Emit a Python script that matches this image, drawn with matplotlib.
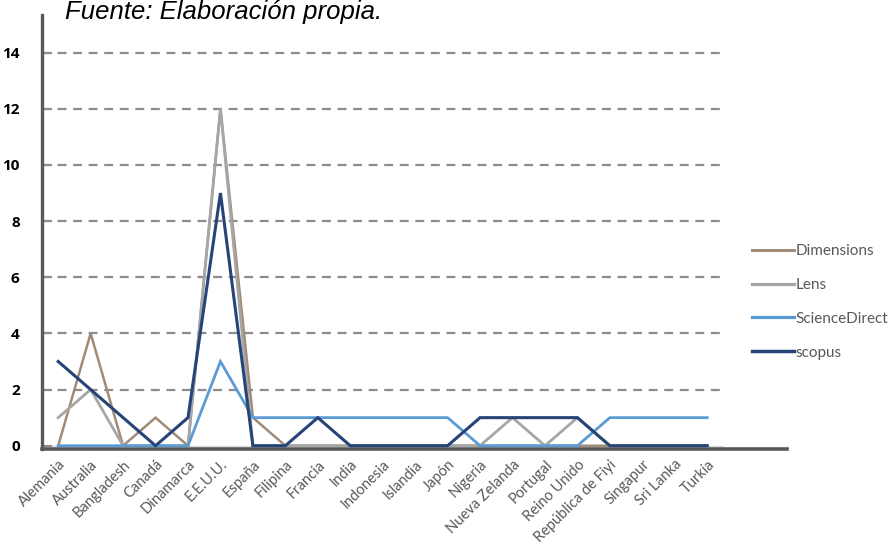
import matplotlib.pyplot as plt
from matplotlib.lines import Line2D

paises = ['Alemania', 'Australia', 'Bangladesh', 'Canadá', 'Dinamarca', 'E.E.U.U.',
          'España', 'Filipina', 'Francia', 'India', 'Indonesia', 'Islandia', 'Japón',
          'Nigeria', 'Nueva Zelanda', 'Portugal', 'Reino Unido', 'República de Fiyi',
          'Singapur', 'Sri Lanka', 'Turkía']

dimensions = [0, 4, 0, 1, 0, 12, 1, 0, 0, 0, 0, 0, 0, 0, 0, 0, 0, 0, 0, 0, 0]
lens = [1, 2, 0, 0, 0, 12, 0, 0, 0, 0, 0, 0, 0, 0, 1, 0, 1, 0, 0, 0, 0]
sciencedirect = [0, 0, 0, 0, 0, 3, 1, 1, 1, 1, 1, 1, 1, 0, 0, 0, 0, 1, 1, 1, 1]
scopus = [3, 2, 1, 0, 1, 9, 0, 0, 1, 0, 0, 0, 0, 1, 1, 1, 1, 0, 0, 0, 0]

series = [('Dimensions', dimensions, '#A08B78', 1.8),
          ('Lens', lens, '#A6A6A6', 2.0),
          ('ScienceDirect', sciencedirect, '#5B9BD5', 2.0),
          ('scopus', scopus, '#264478', 2.2)]

fig = plt.figure(figsize=(8.93, 5.47), dpi=100)
ax = fig.add_axes([0.047, 0.179, 0.834, 0.794])

x = list(range(len(paises)))
n = len(paises)

# lineas de cuadricula discontinuas
for y in range(2, 15, 2):
    ax.plot([-0.5, n - 0.5], [y, y], color='#8C8C8C', lw=1.6,
            linestyle=(0, (4, 3)), zorder=1)
ax.plot([-0.5, n - 0.5], [0, 0], color='#D9D9D9', lw=1.0, zorder=1)

for nombre, valores, color, lw in series:
    ax.plot(x, valores, color=color, lw=lw, label=nombre, zorder=3,
            solid_joinstyle='miter')

ax.set_xlim(-0.5, 22.45)
ax.set_ylim(-0.12, 15.35)

for s in ['top', 'right']:
    ax.spines[s].set_visible(False)
ax.spines['left'].set_color('#595959')
ax.spines['left'].set_linewidth(2.4)
ax.spines['bottom'].set_color('#595959')
ax.spines['bottom'].set_linewidth(2.6)

ax.set_yticks(range(0, 15, 2))
ax.set_yticklabels([str(v) for v in range(0, 15, 2)], fontweight='bold',
                   fontsize=11, family='Open Sans')
ax.tick_params(axis='y', direction='in', length=7, width=1.5, color='#8C8C8C', pad=16)
ax.set_xticks(x)
ax.set_xticklabels(paises, rotation=45, ha='right', rotation_mode='anchor',
                   fontsize=10.5, color='#595959', family='Lato')
ax.tick_params(axis='x', length=0, pad=6)

handles = [Line2D([], [], color=c, lw=lw + 0.3) for _, _, c, lw in series]
leg = ax.legend(handles, [s[0] for s in series], loc='upper left',
                bbox_to_anchor=(0.953, 0.472), frameon=False, handlelength=2.75,
                handletextpad=0.1, labelspacing=1.3, borderpad=0, borderaxespad=0,
                prop={'family': 'Lato', 'size': 11})
for t in leg.get_texts():
    t.set_color('#595959')

fig.text(0.073, 0.965, 'Fuente: Elaboración propia.', style='italic',
         fontsize=18.5, family='Liberation Sans', va='baseline')

plt.savefig('out.png', dpi=100)
